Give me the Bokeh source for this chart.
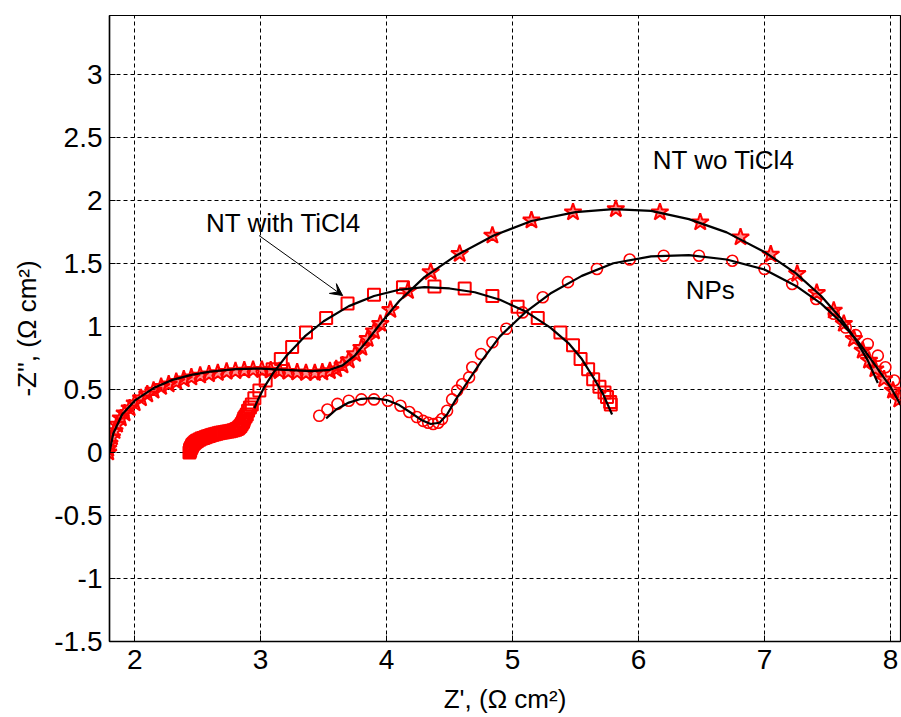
from bokeh.plotting import figure
from bokeh.models import FixedTicker, Label, Arrow, VeeHead, Range1d
from bokeh.embed import file_html
from bokeh.resources import INLINE

# ---- data ----
# NT wo TiCl4 (stars)
wo_x = [1.79, 1.79, 1.80, 1.82, 1.84, 1.86, 1.89, 1.92, 1.96, 2.00, 2.05, 2.10, 2.15, 2.21, 2.27,
        2.33, 2.39, 2.45, 2.52, 2.59, 2.66, 2.73, 2.80, 2.87, 2.94, 3.01, 3.08, 3.15, 3.22, 3.29,
        3.36, 3.43, 3.49, 3.55, 3.60, 3.65, 3.70, 3.75, 3.80, 3.85, 3.90, 3.95, 4.03, 4.17, 4.35,
        4.58, 4.84, 5.15, 5.48, 5.82, 6.17, 6.49, 6.81, 7.05, 7.26, 7.415, 7.55, 7.63, 7.71, 7.78,
        7.83, 7.88, 7.95, 8.02, 8.07]
wo_y = [0.00, 0.03, 0.07, 0.12, 0.17, 0.22, 0.27, 0.31, 0.35, 0.39, 0.43, 0.46, 0.49, 0.52, 0.54,
        0.56, 0.58, 0.595, 0.61, 0.62, 0.63, 0.64, 0.645, 0.65, 0.655, 0.655, 0.65, 0.645, 0.64, 0.635,
        0.63, 0.63, 0.635, 0.645, 0.66, 0.69, 0.73, 0.78, 0.83, 0.90, 0.96, 1.02, 1.13, 1.28, 1.43,
        1.575, 1.72, 1.84, 1.905, 1.93, 1.905, 1.825, 1.706, 1.57, 1.416, 1.265, 1.125, 1.02, 0.90, 0.807,
        0.728, 0.66, 0.58, 0.49, 0.42]
wo_fit_x = [1.80, 1.83, 1.90, 2.00, 2.15, 2.30, 2.45, 2.60, 2.80, 3.00, 3.20, 3.40, 3.55, 3.65, 3.75,
            3.85, 3.95, 4.10, 4.30, 4.55, 4.85, 5.15, 5.50, 5.80, 6.10, 6.40, 6.70, 7.00, 7.25, 7.45,
            7.60, 7.72, 7.82, 7.90]
wo_fit_y = [0.00, 0.15, 0.30, 0.41, 0.51, 0.575, 0.615, 0.64, 0.66, 0.665, 0.655, 0.645, 0.655, 0.69, 0.77,
            0.89, 1.02, 1.20, 1.39, 1.56, 1.72, 1.835, 1.905, 1.93, 1.915, 1.85, 1.745, 1.59, 1.42, 1.24,
            1.07, 0.90, 0.73, 0.55]

# NT with TiCl4 (squares)
with_x = [2.435, 2.44, 2.44, 2.445, 2.45, 2.455, 2.46, 2.47, 2.48, 2.49, 2.50, 2.515, 2.53, 2.545, 2.56,
          2.575, 2.59, 2.605, 2.62, 2.635, 2.65, 2.665, 2.68, 2.695, 2.71, 2.725, 2.74, 2.755, 2.77, 2.785,
          2.80, 2.81, 2.82, 2.83, 2.84, 2.85, 2.86, 2.865, 2.87, 2.88, 2.89, 2.90, 2.915, 2.93, 2.95,
          2.99, 3.04, 3.095, 3.16, 3.25, 3.36, 3.52, 3.69, 3.90, 4.13, 4.38, 4.62, 4.84, 5.04, 5.20,
          5.38, 5.48, 5.54, 5.60, 5.64, 5.69, 5.73, 5.75, 5.775, 5.78]
with_y = [0.00, 0.01, 0.02, 0.03, 0.04, 0.05, 0.06, 0.07, 0.08, 0.088, 0.095, 0.103, 0.11, 0.115, 0.12,
          0.125, 0.13, 0.135, 0.14, 0.144, 0.148, 0.152, 0.155, 0.158, 0.16, 0.163, 0.165, 0.168, 0.172, 0.176,
          0.18, 0.185, 0.19, 0.20, 0.21, 0.225, 0.24, 0.255, 0.27, 0.285, 0.30, 0.33, 0.355, 0.38, 0.43,
          0.49, 0.57, 0.66, 0.74, 0.835, 0.95, 1.065, 1.18, 1.25, 1.31, 1.315, 1.30, 1.24, 1.155, 1.065,
          0.95, 0.85, 0.74, 0.66, 0.58, 0.52, 0.475, 0.44, 0.40, 0.38]
with_fit_x = [2.95, 2.98, 3.03, 3.10, 3.20, 3.35, 3.50, 3.70, 3.90, 4.10, 4.30, 4.50, 4.70, 4.90, 5.10,
              5.30, 5.45, 5.55, 5.65, 5.72, 5.79]
with_fit_y = [0.35, 0.42, 0.52, 0.63, 0.76, 0.92, 1.04, 1.16, 1.24, 1.29, 1.31, 1.30, 1.27, 1.21, 1.12,
              0.99, 0.86, 0.74, 0.58, 0.46, 0.30]

# NPs (circles)
np_x = [3.465, 3.53, 3.61, 3.70, 3.80, 3.90, 4.01, 4.11, 4.18, 4.24, 4.29, 4.33, 4.37, 4.41, 4.44,
        4.48, 4.52, 4.56, 4.60, 4.655, 4.68, 4.75, 4.84, 4.95, 5.08, 5.24, 5.44, 5.67, 5.93, 6.20,
        6.48, 6.745, 7.00, 7.22, 7.41, 7.55, 7.645, 7.725, 7.82, 7.90, 7.96, 8.03, 8.08]
np_y = [0.29, 0.34, 0.385, 0.41, 0.42, 0.42, 0.41, 0.37, 0.32, 0.28, 0.25, 0.235, 0.225, 0.235, 0.265,
        0.33, 0.42, 0.49, 0.54, 0.595, 0.675, 0.78, 0.873, 0.98, 1.11, 1.23, 1.35, 1.455, 1.53, 1.56,
        1.56, 1.52, 1.455, 1.336, 1.217, 1.10, 0.99, 0.93, 0.86, 0.767, 0.675, 0.57, 0.46]
np_fit_x = [3.52, 3.60, 3.70, 3.80, 3.90, 4.00, 4.10, 4.20, 4.28, 4.35, 4.42, 4.48, 4.55, 4.65, 4.75,
            4.90, 5.10, 5.30, 5.55, 5.80, 6.10, 6.40, 6.70, 7.00, 7.25, 7.45, 7.60, 7.75, 7.88, 8.00, 8.09]
np_fit_y = [0.27, 0.34, 0.395, 0.425, 0.43, 0.415, 0.375, 0.31, 0.255, 0.225, 0.235, 0.30, 0.42, 0.57, 0.72,
            0.92, 1.11, 1.26, 1.40, 1.50, 1.555, 1.565, 1.53, 1.45, 1.32, 1.18, 1.04, 0.87, 0.69, 0.52, 0.36]

x_ticks = [2, 3, 4, 5, 6, 7, 8]
x_tick_labels = ["2", "3", "4", "5", "6", "7", "8"]
y_ticks = [-1.5, -1, -0.5, 0, 0.5, 1, 1.5, 2, 2.5, 3]
y_tick_labels = ["-1.5", "-1", "-0.5", "0", "0.5", "1", "1.5", "2", "2.5", "3"]

FONT = "Liberation Sans"

p = figure(width=901, height=717, output_backend="svg", toolbar_location=None,
           x_range=Range1d(1.8, 8.08), y_range=Range1d(-1.5, 3.465),
           min_border_left=109, min_border_right=1, min_border_top=15, min_border_bottom=76)
p.background_fill_color = "white"
p.border_fill_color = "white"
p.outline_line_color = "black"
p.outline_line_width = 1.2

for ax in (p.xaxis[0], p.yaxis[0]):
    ax.major_label_text_font = FONT
    ax.major_label_text_font_size = "28px"
    ax.major_label_text_color = "black"
    ax.axis_label_text_font = FONT
    ax.axis_label_text_font_size = "26px"
    ax.axis_label_text_font_style = "normal"
    ax.axis_label_text_color = "black"
    ax.axis_line_color = "black"
    ax.axis_line_width = 1.5
    ax.major_tick_line_color = "black"
    ax.major_tick_in = 6
    ax.major_tick_out = 0
    ax.minor_tick_line_color = None

p.xaxis.ticker = FixedTicker(ticks=x_ticks)
p.yaxis.ticker = FixedTicker(ticks=y_ticks)
p.xaxis.major_label_overrides = dict(zip(x_ticks, x_tick_labels))
p.yaxis.major_label_overrides = {t: l for t, l in zip(y_ticks, y_tick_labels)}
p.xaxis.major_label_standoff = 8
p.yaxis.major_label_standoff = 7
p.xaxis.axis_label = "Z', (Ω cm²)"
p.yaxis.axis_label = "-Z'', (Ω cm²)"
p.xaxis.axis_label_standoff = 12
p.yaxis.axis_label_standoff = 9

p.xgrid.ticker = FixedTicker(ticks=x_ticks)
p.ygrid.ticker = FixedTicker(ticks=y_ticks)
for g in (p.xgrid[0], p.ygrid[0]):
    g.grid_line_color = "black"
    g.grid_line_dash = "4 3"
    g.grid_line_width = 1

RED = "#ff0000"
p.scatter(wo_x, wo_y, marker="star", size=18, line_color=RED, line_width=2,
          fill_color=RED, fill_alpha=0.45)
p.scatter(with_x, with_y, marker="square", size=12, line_color=RED, line_width=2,
          fill_color=None)
p.scatter(np_x, np_y, marker="circle", size=11, line_color=RED, line_width=1.6,
          fill_color=None)

p.line(wo_fit_x, wo_fit_y, line_color="black", line_width=2.2)
p.line(with_fit_x, with_fit_y, line_color="black", line_width=2.2)
p.line(np_fit_x, np_fit_y, line_color="black", line_width=2.2)

for txt, tx, ty in [("NT wo TiCl4", 6.113, 2.322), ("NPs", 6.375, 1.29), ("NT with TiCl4", 2.566, 1.816)]:
    p.add_layout(Label(x=tx, y=ty, text=txt, text_font=FONT, text_font_size="26px",
                       text_color="black", text_baseline="alphabetic", text_align="left"))

p.add_layout(Arrow(x_start=2.987, y_start=1.72, x_end=3.651, y_end=1.244,
                   line_color="black", line_width=1,
                   end=VeeHead(size=12, fill_color="black", line_color="black", line_width=1)))

open("out.html", "w").write(file_html(p, INLINE))
